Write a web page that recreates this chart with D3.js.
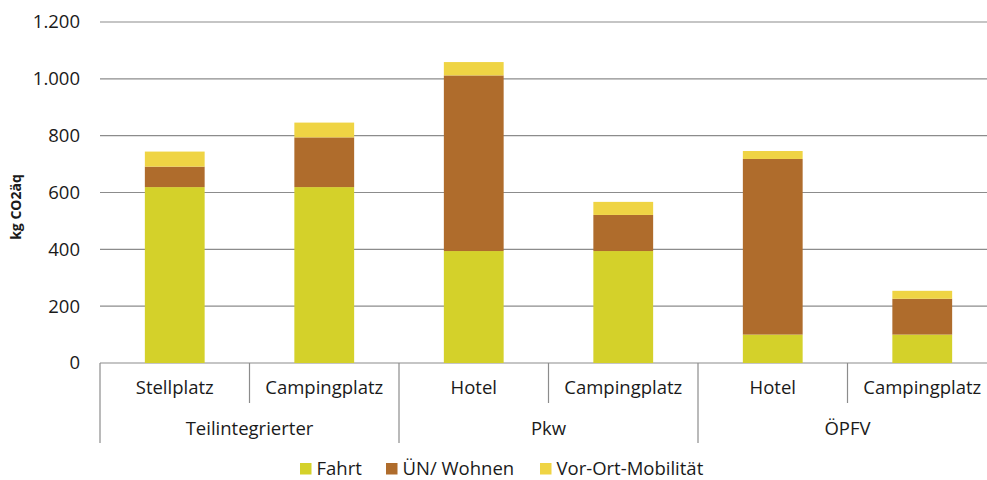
<!DOCTYPE html>
<html><head><meta charset="utf-8">
<script src="https://cdn.jsdelivr.net/npm/d3@7"></script>
<style>body{margin:0;background:#fff;} text{font-family:"Open Sans",sans-serif;fill:#1a1a1a;}</style>
</head><body>
<svg id="c" width="987" height="480"></svg>
<script>
const groups = ["Teilintegrierter","Teilintegrierter","Pkw","Pkw","ÖPFV","ÖPFV"];
const groupNames = ["Teilintegrierter","Pkw","ÖPFV"];
const categories = ["Stellplatz","Campingplatz","Hotel","Campingplatz","Hotel","Campingplatz"];
const seriesNames = ["Fahrt","ÜN/ Wohnen","Vor-Ort-Mobilität"];
const fahrt = [619, 619, 394, 394, 100, 100];
const uenWohnen = [72, 175, 618, 127, 618, 126];
const vorOrt = [53, 52, 47, 46, 28, 28];
const yTicks = [0,200,400,600,800,1000,1200];
const colors = ["#D4D12A","#AF6C2C","#EFD444"];

const svg = d3.select("#c");
const pLeft=100, pRight=997, pTop=22, pBottom=363;
const fs = 18.5;
const idx = categories.map((d,i)=>i);
const x = d3.scaleBand().domain(idx).range([pLeft,pRight]).paddingInner(0.6).paddingOuter(0.3);
const y = d3.scaleLinear().domain([0,1200]).range([pBottom,pTop]);
const fmt = v => d3.format(",")(v).replace(/,/g,".");

// gridlines
svg.append("g").selectAll("line").data(yTicks).join("line")
  .attr("x1",pLeft).attr("x2",pRight).attr("y1",d=>y(d)).attr("y2",d=>y(d))
  .attr("stroke","#8c8c8c").attr("stroke-width",1.2);
// y labels
svg.append("g").selectAll("text").data(yTicks).join("text")
  .attr("x",80).attr("y",d=>y(d)).attr("dy","0.35em").attr("text-anchor","end")
  .attr("font-size",fs).text(fmt);
svg.append("text").attr("transform","translate(21,207) rotate(-90)")
  .attr("text-anchor","middle").attr("font-size",14).attr("font-weight","bold").text("kg CO2äq");

// stacks
const rows = idx.map(i=>({i, "Fahrt":fahrt[i], "ÜN/ Wohnen":uenWohnen[i], "Vor-Ort-Mobilität":vorOrt[i]}));
const stack = d3.stack().keys(seriesNames)(rows);
svg.append("g").selectAll("g").data(stack).join("g").attr("fill",(d,k)=>colors[k])
  .selectAll("rect").data(d=>d).join("rect")
  .attr("x",d=>x(d.data.i)).attr("width",x.bandwidth())
  .attr("y",d=>y(d[1])).attr("height",d=>y(d[0])-y(d[1]));

// category axis
const step = x.step();
const ax = svg.append("g");
for(let k=0;k<=6;k++){
  const xx = pLeft + k*step;
  const isGroup = k%2===0;
  ax.append("line").attr("x1",xx).attr("x2",xx).attr("y1",pBottom).attr("y2",isGroup?443:403)
    .attr("stroke","#8c8c8c").attr("stroke-width",1.2);
}
ax.selectAll("text.cat").data(idx).join("text").attr("class","cat")
  .attr("x",i=>x(i)+x.bandwidth()/2).attr("y",388).attr("dy","0.35em")
  .attr("text-anchor","middle").attr("font-size",fs).text(i=>categories[i]);
ax.selectAll("text.grp").data(groupNames).join("text").attr("class","grp")
  .attr("x",(d,k)=>pLeft+(2*k+1)*step).attr("y",429).attr("dy","0.35em")
  .attr("text-anchor","middle").attr("font-size",fs).text(d=>d);

// legend
const legX = [300,386,540];
const lg = svg.append("g");
seriesNames.forEach((s,k)=>{
  lg.append("rect").attr("x",legX[k]).attr("y",463).attr("width",11.5).attr("height",11.5).attr("fill",colors[k]);
  lg.append("text").attr("x",legX[k]+16.5).attr("y",469).attr("dy","0.35em").attr("font-size",fs).text(s);
});
</script>
</body></html>
